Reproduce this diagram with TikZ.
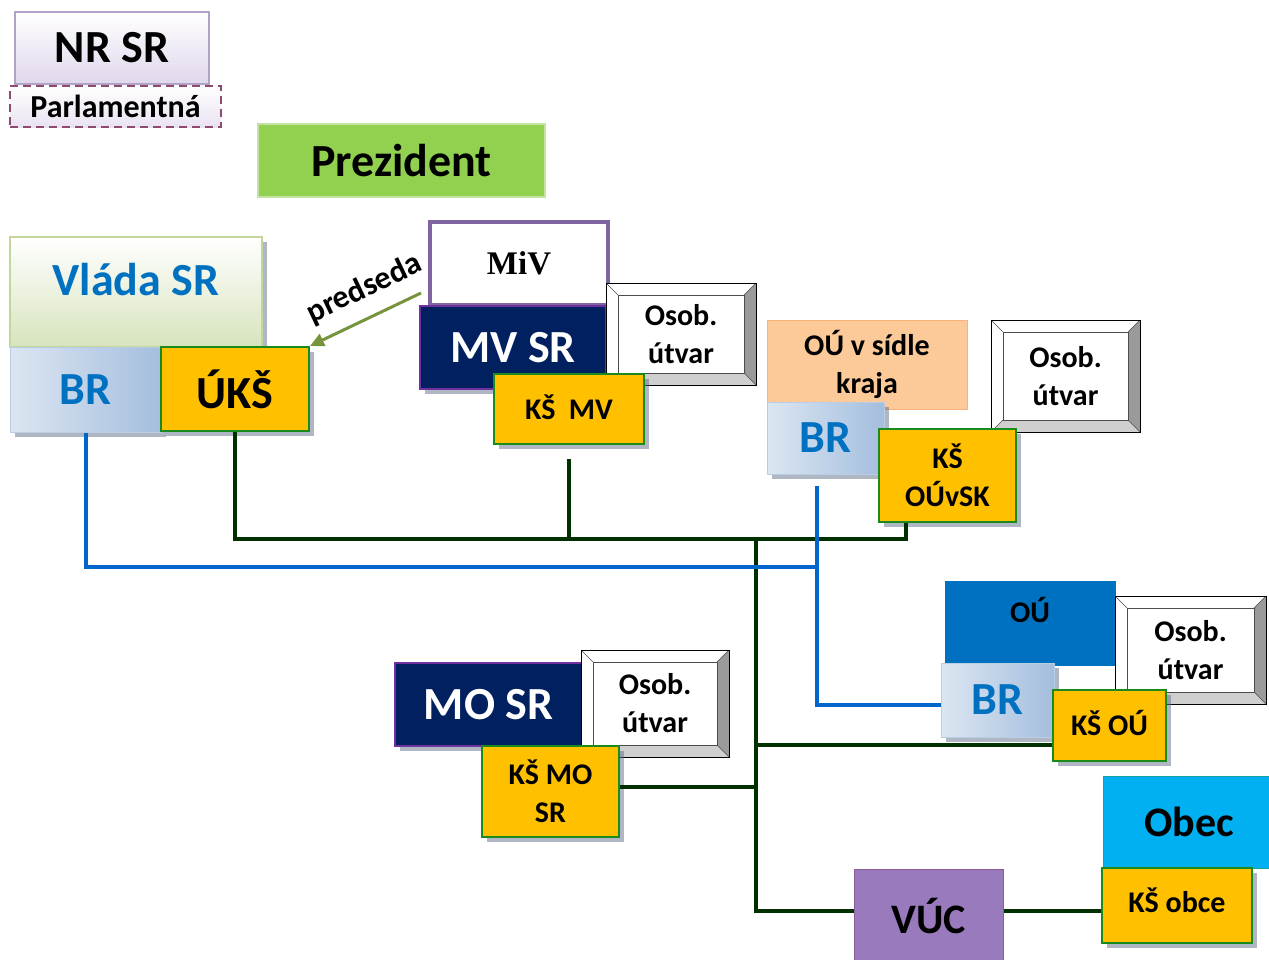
\documentclass[tikz,border=0pt]{standalone}
\usepackage{fontspec}
\setmainfont{Carlito}
\newfontfamily\mivfont{Liberation Serif}
\usetikzlibrary{shadows,arrows.meta}

\definecolor{ksYellow}{HTML}{FFC000}
\definecolor{ksGreen}{HTML}{1A8A1A}
\definecolor{navyFill}{HTML}{002060}
\definecolor{navyEdge}{HTML}{7030A0}
\definecolor{brBlue}{HTML}{0070C0}
\definecolor{brLight}{HTML}{DCE6F2}
\definecolor{brMid}{HTML}{A4BEDE}
\definecolor{brEdge}{HTML}{B9CDE5}
\definecolor{lineGreen}{HTML}{003000}
\definecolor{lineBlue}{HTML}{0066CC}
\definecolor{nrFill}{HTML}{E0D7EC}
\definecolor{nrEdge}{HTML}{B3A2C7}
\definecolor{parlEdge}{HTML}{8E4B6F}
\definecolor{prezFill}{HTML}{92D050}
\definecolor{prezEdge}{HTML}{C3E3A0}
\definecolor{vladaFill}{HTML}{D7E4BD}
\definecolor{vladaEdge}{HTML}{C3D69B}
\definecolor{mivEdge}{HTML}{8064A2}
\definecolor{krajFill}{HTML}{FCC998}
\definecolor{krajEdge}{HTML}{F9B27A}
\definecolor{obecFill}{HTML}{00B0F0}
\definecolor{obecEdge}{HTML}{17A2A2}
\definecolor{vucFill}{HTML}{997ABD}
\definecolor{vucEdge}{HTML}{8B5A9A}
\definecolor{predGreen}{HTML}{77933C}
\definecolor{bevelDark}{HTML}{9A9A9A}
\definecolor{bevelLight}{HTML}{CFCFCF}
\definecolor{shadowGray}{HTML}{5F6F8A}

\newcommand\fsHuge{\fontsize{46}{50}\selectfont\bfseries}
\newcommand\fsBr{\fontsize{46}{50}\selectfont\bfseries}
\newcommand\fsObec{\fontsize{42}{46}\selectfont\bfseries}
\newcommand\fsText{\fontsize{30}{38}\selectfont\bfseries}
\newcommand\fsParl{\fontsize{32}{36}\selectfont\bfseries}
\newcommand\fsPred{\fontsize{32}{36}\selectfont\bfseries}
\newcommand\fsMiv{\fontsize{33}{36}\selectfont\mivfont\bfseries}

\tikzset{
  every node/.style={inner sep=0pt, align=center},
  boxShadow/.style={drop shadow={shadow xshift=5pt, shadow yshift=-5pt, opacity=.5, fill=shadowGray}},
  ksBox/.style={rectangle, fill=ksYellow, draw=ksGreen, line width=2pt, font=\fsText, boxShadow},
  brBox/.style={rectangle, left color=brLight, right color=brMid, draw=brEdge, line width=1pt, text=brBlue, font=\fsBr, boxShadow},
  navyBox/.style={rectangle, fill=navyFill, draw=navyEdge, line width=2pt, text=white, font=\fsHuge, boxShadow},
  bevelBox/.style={rectangle, fill=white, draw=black, line width=0.5pt, font=\fsText,
    path picture={
      \fill[bevelDark] (path picture bounding box.north east) -- ([xshift=-12pt, yshift=-12pt]path picture bounding box.north east) -- ([xshift=-12pt, yshift=12pt]path picture bounding box.south east) -- (path picture bounding box.south east) -- cycle;
      \fill[bevelLight] (path picture bounding box.south west) -- ([xshift=12pt, yshift=12pt]path picture bounding box.south west) -- ([xshift=-12pt, yshift=12pt]path picture bounding box.south east) -- (path picture bounding box.south east) -- cycle;
      \draw[black!70, line width=0.5pt] ([xshift=12pt, yshift=-12pt]path picture bounding box.north west) rectangle ([xshift=-12pt, yshift=12pt]path picture bounding box.south east);
      \draw[black!70, line width=0.5pt] (path picture bounding box.north west) -- ([xshift=12pt, yshift=-12pt]path picture bounding box.north west);
      \draw[black!70, line width=0.5pt] (path picture bounding box.north east) -- ([xshift=-12pt, yshift=-12pt]path picture bounding box.north east);
      \draw[black!70, line width=0.5pt] (path picture bounding box.south west) -- ([xshift=12pt, yshift=12pt]path picture bounding box.south west);
      \draw[black!70, line width=0.5pt] (path picture bounding box.south east) -- ([xshift=-12pt, yshift=12pt]path picture bounding box.south east);
    }},
  ksLine/.style={draw=lineGreen, line width=4.5pt},
  brLine/.style={draw=lineBlue, line width=4pt}
}

\begin{document}
\begin{tikzpicture}[x=1pt, y=-1pt]
	\useasboundingbox (0,0) rectangle (1269,959);

		\node[rectangle, minimum width=194pt, minimum height=72pt, top color=white, bottom color=nrFill, draw=nrEdge, line width=2pt, font=\fsHuge](nrsrBox) at (112,48){NR SR};
		\node[rectangle, minimum width=211pt, minimum height=41pt, top color=white, bottom color=nrFill!70, draw=parlEdge, dash pattern=on 8pt off 5pt, line width=2pt, font=\fsParl](parlBox) at (115.5,106.5){Parlamentná};
		\node[rectangle, minimum width=287pt, minimum height=73pt, fill=prezFill, draw=prezEdge, line width=2pt, font=\fsHuge](prezBox) at (401.5,160.5){Prezident};

		\node[rectangle, minimum width=252pt, minimum height=110pt, top color=white, bottom color=vladaFill, draw=vladaEdge, line width=2pt, text=brBlue, font=\fsHuge, text depth=26pt, boxShadow](vladaBox) at (136,292){Vláda SR};
		\node[brBox, minimum width=151pt, minimum height=85pt](brVladaBox) at (85.5,389.5){BR};
		\node[ksBox, minimum width=148pt, minimum height=84pt, font=\fsHuge](uksBox) at (235,389){ÚKŠ};

		\node[rectangle, minimum width=178pt, minimum height=83pt, fill=white, draw=mivEdge, line width=4pt, font=\fsMiv](mivBox) at (519,263.5){MiV};
		\node[navyBox, minimum width=186pt, minimum height=83pt](mvBox) at (513,347.5){MV SR};
		\node[bevelBox, minimum width=150pt, minimum height=102pt](osobMvBox) at (681,334){Osob.\\útvar};
		\node[ksBox, minimum width=150pt, minimum height=70pt, text depth=4pt](ksMvBox) at (569,409){KŠ\ \ MV};

		\node[rectangle, minimum width=200pt, minimum height=89pt, fill=krajFill, draw=krajEdge, line width=1pt, font=\fsText](krajBox) at (867,364.5){OÚ v sídle\\kraja};
		\node[brBox, minimum width=117pt, minimum height=72pt](brKrajBox) at (825.5,438){BR};
		\node[bevelBox, minimum width=149pt, minimum height=112pt](osobKrajBox) at (1065.5,376){Osob.\\útvar};
		\node[ksBox, minimum width=137pt, minimum height=93pt](ksOuvskBox) at (947.5,475.5){KŠ\\OÚvSK};

		\node[rectangle, minimum width=170pt, minimum height=84pt, fill=brBlue, draw=brBlue, font=\fsText, text depth=26pt](ouBox) at (1030,623){OÚ};
		\node[bevelBox, minimum width=151pt, minimum height=108pt](osobOuBox) at (1190.5,650){Osob.\\útvar};
		\node[brBox, minimum width=113pt, minimum height=74pt](brOuBox) at (997.5,700){BR};
		\node[ksBox, minimum width=113pt, minimum height=71pt, text depth=6pt](ksOuBox) at (1109.5,725.5){KŠ OÚ};

		\node[navyBox, minimum width=187pt, minimum height=83pt](moBox) at (488.5,704.5){MO SR};
		\node[bevelBox, minimum width=148pt, minimum height=107pt](osobMoBox) at (655,703.5){Osob.\\útvar};
		\node[ksBox, minimum width=137pt, minimum height=91pt](ksMoBox) at (550.5,791.5){KŠ MO\\SR};

		\node[rectangle, minimum width=172pt, minimum height=92pt, fill=obecFill, draw=obecEdge, line width=1pt, font=\fsObec](obecBox) at (1189,822){Obec};
		\node[ksBox, minimum width=150pt, minimum height=75pt, text depth=10pt](ksObceBox) at (1177,905.5){KŠ obce};
		\node[rectangle, minimum width=149pt, minimum height=100pt, fill=vucFill, draw=vucEdge, line width=1pt, font=\fsObec, text depth=6pt](vucBox) at (928.5,919){VÚC};

		\coordinate (busEast) at (906,539);
		\coordinate (trunkTop) at (756,539);
		\coordinate (trunkFoot) at (756,911);
		\coordinate (ouJoin) at (756,745);
		\coordinate (moJoin) at (756,787);
		\coordinate (brRise) at (817,567);

		\draw [ksLine] (uksBox.south) |- (busEast) -- (busEast |- ksOuvskBox.south);
		\draw [ksLine, shorten <=14pt] (ksMvBox.south) -- (ksMvBox.south |- busEast);
		\draw [ksLine] (trunkTop) -- (trunkFoot) -- (trunkFoot -| vucBox.west);
		\draw [ksLine] (ouJoin) -- (ouJoin -| ksOuBox.west);
		\draw [ksLine] (moJoin -| ksMoBox.east) -- (moJoin);
		\draw [ksLine] (trunkFoot -| vucBox.east) -- (trunkFoot -| ksObceBox.west);

		\draw [brLine] (brVladaBox.south) |- (brRise);
		\draw [brLine, shorten <=11pt] (brRise |- brKrajBox.south) -- (brRise) |- ([yshift=-5pt]brOuBox.west);

		\draw [draw=predGreen, line width=3pt, -{Triangle[length=14pt, width=13pt]}] ([xshift=-7pt, yshift=14pt]mivBox.south west) -- (uksBox.north east) node[pos=0.4, sloped, above=13pt, font=\fsPred](predLabel){predseda};
	\end{tikzpicture}
\end{document}
